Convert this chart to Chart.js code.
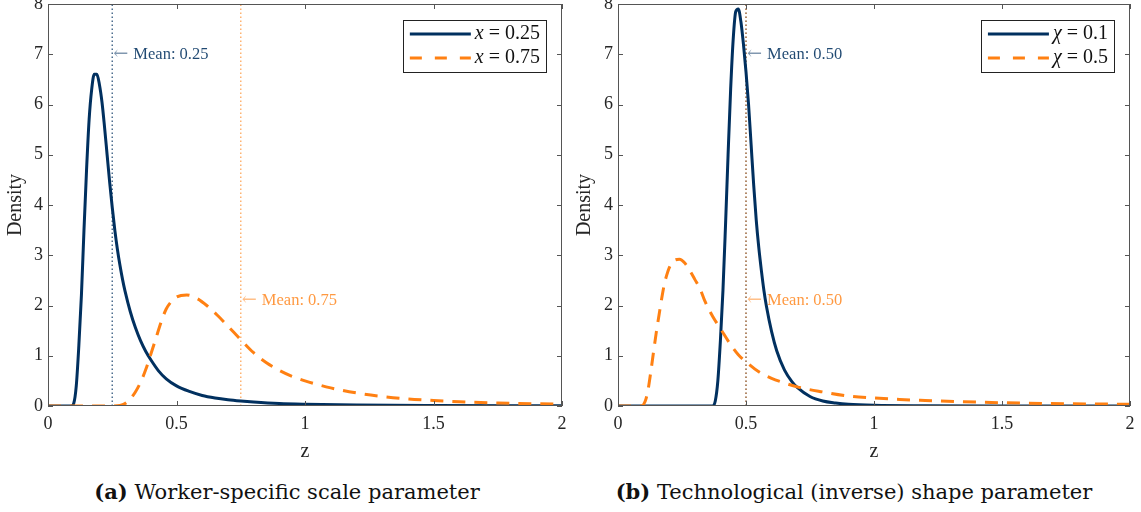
<!DOCTYPE html>
<html>
<head>
<meta charset="utf-8">
<script src="https://cdn.jsdelivr.net/npm/chart.js@4.4.1/dist/chart.umd.min.js"></script>
<style>
  html, body { margin: 0; padding: 0; background: #fff; }
  body { width: 1141px; height: 512px; position: relative; overflow: hidden; }
  .panel { position: absolute; top: 0; }
  .cap { position: absolute; top: 479px; font-family: 'DejaVu Serif', serif; font-size: 21px; color: #111; white-space: nowrap; transform: translateX(-50%); }
</style>
</head>
<body>
<div class="panel" style="left:0"><canvas id="chartA" width="570" height="464"></canvas></div>
<div class="panel" style="left:570px"><canvas id="chartB" width="571" height="464"></canvas></div>
<div class="cap" style="left:287px"><b>(a)</b> Worker-specific scale parameter</div>
<div class="cap" style="left:854px"><b>(b)</b> Technological (inverse) shape parameter</div>

<script>
// axis ticks
const xTicks = [0, 0.5, 1, 1.5, 2];
const yTicks = [0, 1, 2, 3, 4, 5, 6, 7, 8];

// panel (a): x = 0.25 (solid) and x = 0.75 (dashed)
const zA1 = [0, 0.09, 0.10, 0.11, 0.12, 0.13, 0.14, 0.15, 0.16, 0.17, 0.18, 0.19, 0.20, 0.21, 0.22, 0.23, 0.24, 0.25,
  0.26, 0.27, 0.28, 0.29, 0.30, 0.32, 0.34, 0.36, 0.38, 0.40, 0.43, 0.46, 0.50, 0.55, 0.60, 0.65, 0.70, 0.75, 0.80,
  0.90, 1.0, 1.2, 1.5, 2.0];
const densA1 = [0, 0, 0.05, 0.4, 1.2, 2.2, 3.5, 4.7, 5.7, 6.3, 6.6, 6.6, 6.4, 6.05, 5.55, 5.0, 4.45, 3.95,
  3.5, 3.12, 2.8, 2.52, 2.28, 1.88, 1.56, 1.3, 1.09, 0.92, 0.7, 0.54, 0.4, 0.29, 0.21, 0.16, 0.125, 0.1, 0.08,
  0.05, 0.035, 0.018, 0.008, 0.003];

const zA2 = [0, 0.25, 0.28, 0.30, 0.32, 0.34, 0.36, 0.38, 0.40, 0.42, 0.44, 0.46, 0.48, 0.50, 0.54, 0.58, 0.62, 0.66, 0.70,
  0.75, 0.80, 0.85, 0.90, 0.95, 1.0, 1.1, 1.2, 1.3, 1.4, 1.5, 1.6, 1.75, 1.9, 2.0];
const densA2 = [0, 0, 0.01, 0.05, 0.14, 0.28, 0.47, 0.72, 1.03, 1.35, 1.67, 1.93, 2.08, 2.17, 2.21, 2.14, 1.99, 1.8, 1.59,
  1.32, 1.06, 0.86, 0.71, 0.59, 0.5, 0.36, 0.26, 0.19, 0.14, 0.11, 0.085, 0.06, 0.045, 0.035];

// panel (b): chi = 0.1 (solid) and chi = 0.5 (dashed)
const zB1 = [0, 0.37, 0.38, 0.39, 0.40, 0.41, 0.42, 0.43, 0.44, 0.45, 0.46, 0.47, 0.48, 0.49, 0.50, 0.51, 0.52, 0.53,
  0.54, 0.55, 0.56, 0.57, 0.58, 0.60, 0.62, 0.65, 0.68, 0.70, 0.75, 0.80, 0.85, 0.90, 1.0, 1.2, 1.5, 2.0];
const densB1 = [0, 0, 0.1, 0.5, 1.3, 2.3, 3.6, 5.0, 6.3, 7.3, 7.85, 7.9, 7.65, 7.2, 6.65, 6.0, 5.2, 4.4,
  3.7, 3.15, 2.7, 2.3, 1.98, 1.48, 1.1, 0.72, 0.48, 0.37, 0.19, 0.1, 0.06, 0.035, 0.015, 0.005, 0.001, 0];

const zB2 = [0, 0.09, 0.10, 0.11, 0.12, 0.13, 0.14, 0.15, 0.16, 0.17, 0.18, 0.19, 0.20, 0.22, 0.24, 0.26, 0.28, 0.30,
  0.32, 0.34, 0.37, 0.40, 0.44, 0.47, 0.50, 0.55, 0.60, 0.65, 0.70, 0.80, 0.90, 1.0, 1.1, 1.2, 1.35, 1.5, 1.75, 2.0];
const densB2 = [0, 0, 0.03, 0.15, 0.4, 0.75, 1.12, 1.48, 1.8, 2.12, 2.4, 2.6, 2.75, 2.9, 2.92, 2.85, 2.7, 2.52,
  2.34, 2.08, 1.78, 1.54, 1.22, 1.02, 0.88, 0.68, 0.55, 0.46, 0.38, 0.28, 0.2, 0.16, 0.13, 0.11, 0.085, 0.065, 0.045, 0.035];

// means and where their labels sit (density units)
const meansA = [0.25, 0.75];
const meansB = [0.5, 0.5];
const meanLabelY = [7, 2.1];

const legendA = ['x', 'x'];
const legendValsA = ['0.25', '0.75'];
const legendB = ['\u03c7', '\u03c7'];
const legendValsB = ['0.1', '0.5'];

const BLUE = '#01305f';
const ORANGE = '#ff8012';
const FONT = "'Liberation Serif', 'DejaVu Serif', serif";

const toPts = (zs, ds) => zs.map((z, i) => ({ x: z, y: ds[i] }));

// frame, inward ticks, mean labels and the boxed legend
const decorations = {
  id: 'decorations',
  afterDatasetsDraw(chart, args, opts) {
    const { ctx, chartArea: a, scales: { x, y } } = chart;
    ctx.save();

    // box + ticks
    ctx.strokeStyle = '#555';
    ctx.lineWidth = 1;
    ctx.strokeRect(a.left + 0.5, a.top + 0.5, a.width - 1, a.height - 1);
    ctx.beginPath();
    xTicks.forEach(v => {
      const px = Math.round(x.getPixelForValue(v)) + 0.5;
      ctx.moveTo(px, a.bottom); ctx.lineTo(px, a.bottom - 5);
      ctx.moveTo(px, a.top); ctx.lineTo(px, a.top + 5);
    });
    yTicks.forEach(v => {
      const py = Math.round(y.getPixelForValue(v)) + 0.5;
      ctx.moveTo(a.left, py); ctx.lineTo(a.left + 5, py);
      ctx.moveTo(a.right, py); ctx.lineTo(a.right - 5, py);
    });
    ctx.stroke();

    // mean labels
    const cols = [
      ['rgba(1,48,95,0.5)', 'rgba(1,48,95,0.88)'],
      ['rgba(255,128,18,0.5)', 'rgba(255,128,18,0.8)']
    ];
    opts.means.forEach((m, i) => {
      const px = x.getPixelForValue(m) + 1;
      const py = y.getPixelForValue(meanLabelY[i]);
      ctx.textBaseline = 'middle';
      ctx.textAlign = 'left';
      ctx.font = "18px 'DejaVu Serif', serif";
      ctx.fillStyle = cols[i][0];
      ctx.fillText('\u2190', px, py);
      const aw = ctx.measureText('\u2190').width;
      ctx.font = '16.5px ' + FONT;
      ctx.fillStyle = cols[i][1];
      ctx.fillText('Mean: ' + m.toFixed(2), px + aw + 5, py);
    });

    // legend
    const fs = 20;
    const lineLen = 61;
    let textW = 0;
    opts.names.forEach((n, i) => {
      ctx.font = 'italic ' + fs + 'px ' + FONT;
      let w = ctx.measureText(n).width;
      ctx.font = fs + 'px ' + FONT;
      w += ctx.measureText(' = ' + opts.vals[i]).width;
      textW = Math.max(textW, w);
    });
    const bw = 7 + lineLen + 4 + textW + 6;
    const bh = 52;
    const bx = a.right - 16 - bw;
    const by = a.top + 16;
    ctx.fillStyle = '#fff';
    ctx.fillRect(bx, by, bw, bh);
    ctx.strokeStyle = '#222';
    ctx.strokeRect(Math.round(bx) + 0.5, by + 0.5, Math.round(bw), bh);
    const rows = [by + 14, by + 38];
    rows.forEach((ry, i) => {
      ctx.beginPath();
      ctx.lineWidth = 3;
      ctx.strokeStyle = i === 0 ? BLUE : ORANGE;
      ctx.setLineDash(i === 0 ? [] : [12, 13]);
      ctx.moveTo(bx + 7, ry); ctx.lineTo(bx + 7 + lineLen, ry);
      ctx.stroke();
      ctx.setLineDash([]);
      ctx.fillStyle = '#111';
      ctx.textBaseline = 'middle';
      let tx = bx + 7 + lineLen + 4;
      ctx.font = 'italic ' + fs + 'px ' + FONT;
      ctx.fillText(opts.names[i], tx, ry);
      tx += ctx.measureText(opts.names[i]).width;
      ctx.font = fs + 'px ' + FONT;
      ctx.fillText(' = ' + opts.vals[i], tx, ry);
    });
    ctx.restore();
  }
};

// pin the plot area: no extra room for half labels at the edges
function noEdgePadding(s) {
  s.paddingTop = 0; s.paddingBottom = 0; s.paddingLeft = 0; s.paddingRight = 0;
}

function makePanel(canvasId, s1, s2, means, names, vals, padLeftTitle, padRight) {
  const ctx = document.getElementById(canvasId);
  return new Chart(ctx, {
    type: 'line',
    data: {
      datasets: [
        {
          data: s2, borderColor: ORANGE, borderWidth: 3, borderDash: [13, 9],
          pointRadius: 0, cubicInterpolationMode: 'monotone', order: 0
        },
        {
          data: s1, borderColor: BLUE, borderWidth: 3,
          pointRadius: 0, cubicInterpolationMode: 'monotone', order: 1
        },
        {
          data: [{ x: means[0], y: 0 }, { x: means[0], y: 8 }],
          borderColor: 'rgba(1,48,95,0.7)', borderWidth: 1.5, borderDash: [1.5, 2.5], pointRadius: 0, order: 3
        },
        {
          data: [{ x: means[1], y: 0 }, { x: means[1], y: 8 }],
          borderColor: 'rgba(255,128,18,0.6)', borderWidth: 1.5, borderDash: [1.5, 2.5], pointRadius: 0, order: 2
        }
      ]
    },
    options: {
      responsive: false,
      animation: false,
      layout: { autoPadding: false, padding: { top: 4, right: padRight, bottom: 0, left: 0 } },
      plugins: {
        legend: { display: false },
        tooltip: { enabled: false },
        decorations: { means: means, names: names, vals: vals }
      },
      scales: {
        x: {
          type: 'linear', min: 0, max: 2,
          afterBuildTicks: s => { s.ticks = xTicks.map(v => ({ value: v })); },
          grid: { display: false, drawTicks: false },
          border: { display: false },
          ticks: { padding: 7, color: '#262626', font: { family: FONT, size: 18 }, callback: v => String(v) },
          title: { display: true, text: 'z', color: '#262626', padding: 0, font: { family: FONT, size: 20 } },
          afterFit: s => { s.height = 58; noEdgePadding(s); }
        },
        y: {
          min: 0, max: 8,
          afterBuildTicks: s => { s.ticks = yTicks.map(v => ({ value: v })); },
          grid: { display: false, drawTicks: false },
          border: { display: false },
          ticks: { padding: 5, color: '#262626', font: { family: FONT, size: 18 }, callback: v => String(v) },
          title: { display: true, text: 'Density', color: '#262626', padding: { top: padLeftTitle, bottom: 0 }, font: { family: FONT, size: 20 } },
          afterFit: s => { s.width = 48; noEdgePadding(s); }
        }
      }
    },
    plugins: [decorations]
  });
}

document.addEventListener('DOMContentLoaded', function () {
  makePanel('chartA', toPts(zA1, densA1), toPts(zA2, densA2), meansA, legendA, legendValsA, 4, 8);
  makePanel('chartB', toPts(zB1, densB1), toPts(zB2, densB2), meansB, legendB, legendValsB, 3, 11);
});
</script>
</body>
</html>
